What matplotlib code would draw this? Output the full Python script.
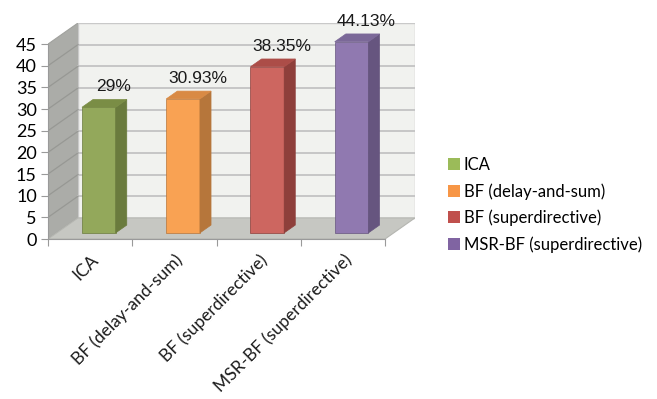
import matplotlib
matplotlib.use("Agg")
import matplotlib.pyplot as plt
from matplotlib.patches import Polygon, Patch

categories = ["ICA", "BF (delay-and-sum)", "BF (superdirective)", "MSR-BF (superdirective)"]
values = [29.0, 30.93, 38.35, 44.13]
value_labels = ["29%", "30.93%", "38.35%", "44.13%"]
yticks = [0, 5, 10, 15, 20, 25, 30, 35, 40, 45]

front_colors = ["#93a85b", "#f9a253", "#cd6660", "#9079b0"]
side_colors = ["#6a7b3d", "#b6763b", "#8e3f3b", "#66557f"]
top_colors = ["#7a8d45", "#d98a44", "#ac4d48", "#7b6898"]
legend_colors = ["#9bbb59", "#f79646", "#c0504d", "#8064a2"]

# pseudo-3D geometry (data units)
D = 0.356   # depth offset along x
DY = 4.87   # depth offset along y
F0, F1 = 0.29, 0.66  # bar depth span (fraction of the full depth)
W = 0.40    # bar width
YMAX = 45

fig = plt.figure(figsize=(6.57, 3.99), dpi=100)
ax = fig.add_axes([48 / 657, 1 - 239 / 399, 367 / 657, 216 / 399])
n = len(categories)
ax.set_xlim(0, n + D)
ax.set_ylim(0, YMAX + DY)

# walls and floor
ax.add_patch(Polygon([(0, 0), (D, DY), (D, DY + YMAX), (0, YMAX)],
                     facecolor="#abaca8", edgecolor="#a0a19d", lw=0.8, zorder=1))
ax.add_patch(Polygon([(D, DY), (n + D, DY), (n + D, DY + YMAX), (D, DY + YMAX)],
                     facecolor="#f1f2ef", edgecolor="#c9c9c9", lw=1.0, zorder=1))
ax.add_patch(Polygon([(0, 0), (n, 0), (n + D, DY), (D, DY)],
                     facecolor="#c6c7c2", edgecolor="#b5b6b1", lw=0.8, zorder=1))
for v in yticks[1:-1]:
    ax.plot([D, n + D], [DY + v, DY + v], color="#c3c3c3", lw=1.3, zorder=2)
    ax.plot([0, D], [v, DY + v], color="#979894", lw=0.9, zorder=2)

# bars
for i, v in enumerate(values):
    x0 = i + 0.5 - W / 2 + D * F0
    b = DY * F0
    dx = D * (F1 - F0)
    dy = DY * (F1 - F0)
    ax.bar(x0 + W / 2, v, width=W, bottom=b, color=front_colors[i],
           edgecolor=side_colors[i], lw=0.5, zorder=3)
    ax.add_patch(Polygon([(x0 + W, b), (x0 + W + dx, b + dy),
                          (x0 + W + dx, b + dy + v), (x0 + W, b + v)],
                         facecolor=side_colors[i], edgecolor=side_colors[i], lw=0.5, zorder=3))
    ax.add_patch(Polygon([(x0, b + v), (x0 + W, b + v),
                          (x0 + W + dx, b + dy + v), (x0 + dx, b + dy + v)],
                         facecolor=top_colors[i], edgecolor=top_colors[i], lw=0.5, zorder=3))
    ax.text(x0 + W / 2 + 0.17, b + dy + v + 1.2, value_labels[i],
            ha="center", va="bottom", fontsize=12.5, family="Liberation Sans",
            color="#1a1a1a", zorder=4, clip_on=False)

# axes styling
for s in ["top", "right"]:
    ax.spines[s].set_visible(False)
ax.spines["left"].set_color("#9a9a9a")
ax.spines["left"].set_bounds(0, YMAX)
ax.spines["bottom"].set_color("#9a9a9a")
ax.spines["bottom"].set_bounds(0, n)
ax.set_yticks(yticks)
ax.set_yticklabels([str(t) for t in yticks], fontsize=13, family="Lato")
ax.tick_params(axis="y", length=5, color="#9a9a9a", pad=3)
ax.set_xticks(range(n + 1), minor=False)
ax.set_xticklabels([""] * (n + 1))
ax.tick_params(axis="x", length=5, color="#9a9a9a")
ax.set_xticks([i + 0.5 for i in range(n)], minor=True)
ax.set_xticklabels(categories, minor=True, rotation=45, ha="right",
                   rotation_mode="anchor", fontsize=12.5, family="Lato", color="#1a1a1a")
ax.tick_params(axis="x", which="minor", length=0, pad=9)
ax.set_facecolor("none")

handles = [Patch(facecolor=c, edgecolor="none") for c in legend_colors]
fig.legend(handles, categories, loc="upper left", bbox_to_anchor=(433 / 657, 1 - 142 / 399),
           frameon=False, prop={"family": "Lato", "size": 12}, handlelength=0.7,
           handleheight=0.7, handletextpad=0.25, labelspacing=0.6)

fig.savefig("out.png", dpi=100)
